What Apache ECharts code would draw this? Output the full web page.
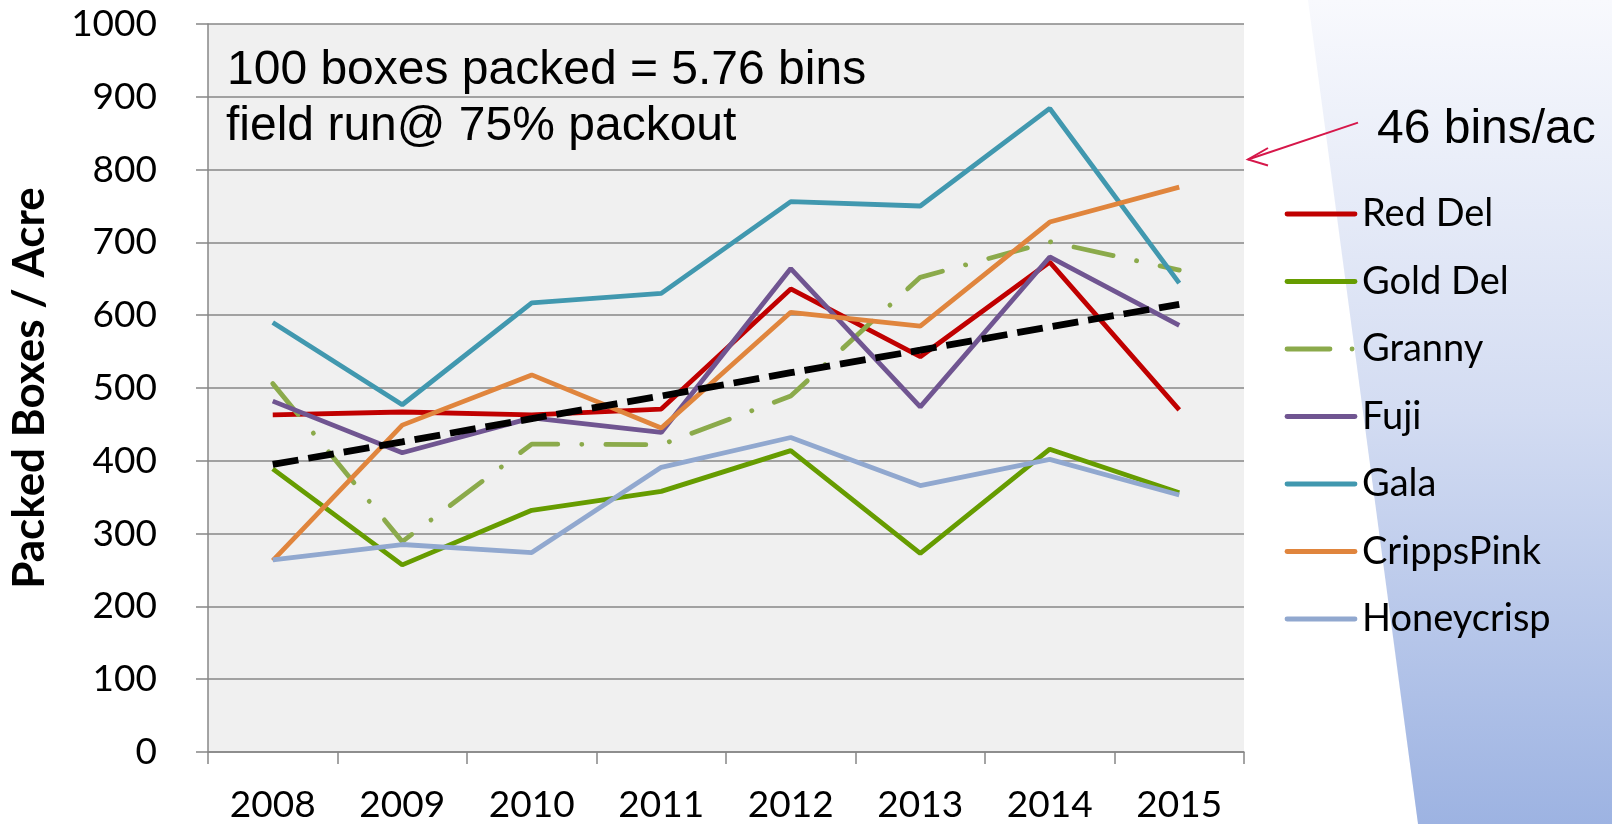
<!DOCTYPE html>
<html>
<head>
<meta charset="utf-8">
<script src="https://cdn.jsdelivr.net/npm/echarts@6/dist/echarts.min.js"></script>
<style>
html,body{margin:0;padding:0;background:#fff;}
#chart{width:1612px;height:824px;}
</style>
</head>
<body>
<div id="chart"></div>
<script>
const years = ['2008','2009','2010','2011','2012','2013','2014','2015'];
const redDel     = [463, 467, 463, 471, 636, 543, 673, 470];
const goldDel    = [389, 257, 332, 358, 414, 273, 416, 356];
const granny     = [506, 289, 423, 422, 489, 652, 701, 662];
const fuji       = [482, 411, 459, 439, 664, 474, 680, 586];
const gala       = [590, 477, 617, 630, 756, 750, 884, 644];
const crippsPink = [263, 449, 518, 445, 604, 585, 728, 776];
const honeycrisp = [264, 285, 274, 391, 432, 366, 402, 353];
const trend      = [395, 426, 458, 489, 521, 552, 584, 615];
const yTicks = [0,100,200,300,400,500,600,700,800,900,1000];
const seriesNames = ['Red Del','Gold Del','Granny','Fuji','Gala','CrippsPink','Honeycrisp'];
const seriesColors = ['#C00000','#669C00','#8BAA4B','#705591','#4198AF','#E0853D','#91A8CF'];
const seriesData = [redDel, goldDel, granny, fuji, gala, crippsPink, honeycrisp];

const LW = 4.8;
const grannyDash = [40, 24, 0.1, 24];

const chart = echarts.init(document.getElementById('chart'), null, {renderer:'canvas'});

const series = seriesNames.map(function(n, i){
  const ls = {color: seriesColors[i], width: LW};
  if (n === 'Granny') { ls.type = grannyDash; ls.cap = 'round'; }
  return {name: n, type: 'line', data: seriesData[i], symbol: 'none', lineStyle: ls, silent: true};
});
series.push({name: 'Trend', type: 'line', data: trend, symbol: 'none', silent: true,
  lineStyle: {color: '#000', width: 6.8, type: [26, 10]}});

// custom legend (annotation layer)
const legendGraphics = [];
const legendRowY = [214, 281.5, 349, 416.5, 484, 551.5, 619];
seriesNames.forEach(function(n, i){
  const y = legendRowY[i];
  legendGraphics.push({type: 'line', z: 10, silent: true,
    shape: {x1: 1287, y1: y, x2: 1355, y2: y},
    style: {stroke: seriesColors[i], lineWidth: LW, lineCap: 'round',
      lineDash: n === 'Granny' ? [43, 22, 0.1, 30] : null}});
  legendGraphics.push({type: 'text', z: 10, silent: true, x: 1362, y: y,
    style: {text: n, font: '38px Lato, sans-serif', fill: '#000', textVerticalAlign: 'middle', verticalAlign: 'middle'}});
});

const option = {
  animation: false,
  backgroundColor: '#ffffff',
  grid: {left: 192, right: 368, top: 24, bottom: 71, show: true, backgroundColor: '#F0F0F0', borderWidth: 0},
  xAxis: {
    type: 'category', data: years, boundaryGap: true,
    axisLine: {show: true, lineStyle: {color: '#878787', width: 1.5}},
    axisTick: {show: true, length: 12, lineStyle: {color: '#878787', width: 1.5}},
    axisLabel: {fontFamily: 'Lato', fontSize: 37, color: '#000', margin: 35},
    splitLine: {show: false}
  },
  yAxis: {
    type: 'value', min: 0, max: 1000, interval: 100,
    name: 'Packed Boxes / Acre', nameLocation: 'middle', nameRotate: 90, nameGap: 156,
    nameTextStyle: {fontFamily: 'Lato', fontWeight: 'bold', fontSize: 44, color: '#000'},
    axisLine: {show: true, lineStyle: {color: '#878787', width: 1.5}},
    axisTick: {show: true, length: 12, lineStyle: {color: '#878787', width: 1.5}},
    axisLabel: {fontFamily: 'Lato', fontSize: 37, color: '#000', margin: 51,
      formatter: function(v){ return yTicks.indexOf(v) >= 0 ? String(v) : ''; }},
    splitLine: {show: true, lineStyle: {color: '#878787', width: 1.5}}
  },
  graphic: [
    {type: 'polygon', z: -10, silent: true,
     shape: {points: [[1308,0],[1612,0],[1612,824],[1418,824]]},
     style: {fill: new echarts.graphic.LinearGradient(0,0,0,1,[
       {offset: 0, color: '#F8F9FD'},
       {offset: 0.5, color: '#D3DCF2'},
       {offset: 1, color: '#9DB3E2'}
     ])}},
    {type: 'text', left: 227, top: 47, z: 10, silent: true,
     style: {text: '100 boxes packed = 5.76 bins', font: '48px "Liberation Sans", Arial, sans-serif', fill: '#000'}},
    {type: 'text', left: 226, top: 103, z: 10, silent: true,
     style: {text: 'field run@ 75% packout', font: '48px "Liberation Sans", Arial, sans-serif', fill: '#000'}},
    {type: 'text', left: 1377, top: 106, z: 10, silent: true,
     style: {text: '46 bins/ac', font: '48px "Liberation Sans", Arial, sans-serif', fill: '#000'}},
    {type: 'line', z: 10, silent: true,
     shape: {x1: 1358, y1: 122.6, x2: 1248, y2: 159.5},
     style: {stroke: '#D6174A', lineWidth: 2}},
    {type: 'polyline', z: 10, silent: true,
     shape: {points: [[1268,148],[1248,159.5],[1268,165.5]]},
     style: {stroke: '#D6174A', lineWidth: 2, fill: null}}
  ].concat(legendGraphics),
  series: series
};
chart.setOption(option);
</script>
</body>
</html>
